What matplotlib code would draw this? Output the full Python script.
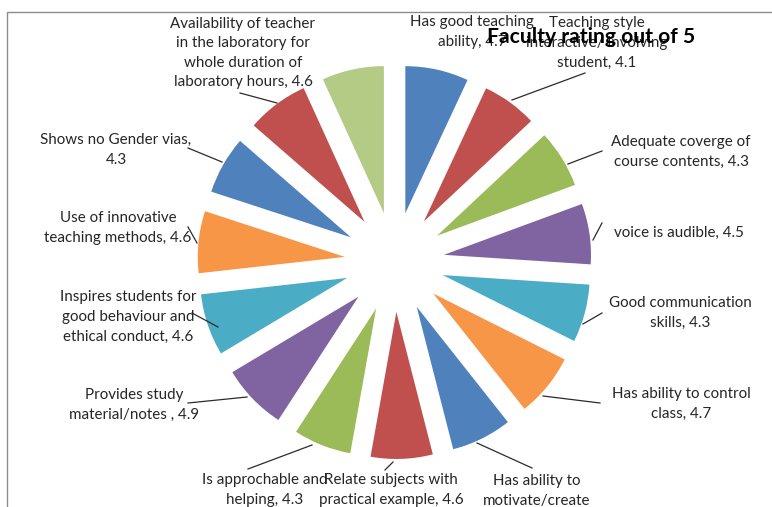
import textwrap
import numpy as np
import matplotlib
matplotlib.use("Agg")
import matplotlib.pyplot as plt
from matplotlib.patches import Rectangle

# data (clockwise from 12 o'clock)
categories = [
    "Has good teaching ability",
    "Teaching style interactive/ involving student",
    "Adequate coverge of course contents",
    "voice is audible",
    "Good communication skills",
    "Has ability to control class",
    "Has ability to motivate/create interest",
    "Relate subjects with practical example",
    "Is approchable and helping",
    "Provides study material/notes ",
    "Inspires students for good behaviour and ethical conduct",
    "Use of innovative teaching methods",
    "Shows no Gender vias",
    "Availability of teacher in the laboratory for whole duration of laboratory hours",
    "",
]
ratings = [4.7, 4.1, 4.3, 4.5, 4.3, 4.7, 4.5, 4.6, 4.3, 4.9, 4.6, 4.6, 4.3, 4.6, 4.6]
title = "Faculty rating out of 5"

colors = ["#4F81BD", "#C0504D", "#9BBB59", "#8064A2", "#4BACC6", "#F79646",
          "#4F81BD", "#C0504D", "#9BBB59", "#8064A2", "#4BACC6", "#F79646",
          "#4F81BD", "#C0504D", "#B3CB84"]

# label layout (pixels, y from top)
wrap_w = [18, 22, 20, 22, 20, 22, 15, 22, 18, 20, 21, 21, 21, 23, 0]
label_xy = [(472, 32), (597, 43), (681, 152), (679, 233), (680, 313),
            (681, 404), (537, 501), (391, 490), (265, 490), (134, 405),
            (128, 317), (118, 228), (116, 150), (243, 53), None]
leaders = [None, ((585, 73), (512, 100)), ((602, 151), (568, 164)),
           ((602, 223), (593, 240)), ((602, 313), (583, 324)),
           ((600, 403), (543, 396)), ((532, 468), (477, 443)),
           ((393, 462), (385, 470)), ((248, 469), (312, 445)),
           ((188, 403), (247, 397)), ((192, 313), (218, 327)),
           ((188, 227), (197, 243)), ((188, 148), (222, 162)),
           ((240, 93), (277, 103)), None]

W, H = 772, 507
fig = plt.figure(figsize=(W / 100, H / 100), dpi=100)
fig.patch.set_facecolor("white")

# pie: centre (394.5, 262) px, radius 147 px, explosion 50 px
cx, cy, R, half = 394.5, 262, 147, 200
lim = half / R
ax = fig.add_axes([(cx - half) / W, (H - cy - half) / H, 2 * half / W, 2 * half / H])
ax.pie(ratings, colors=colors, startangle=90, counterclock=False,
       explode=[50 / R] * len(ratings), radius=1,
       wedgeprops=dict(linewidth=0))
ax.set_xlim(-lim, lim)
ax.set_ylim(-lim, lim)
ax.set_axis_off()

# overlay for frame, labels and leader lines
ov = fig.add_axes([0, 0, 1, 1], zorder=5)
ov.set_xlim(0, W)
ov.set_ylim(H, 0)
ov.set_axis_off()
ov.add_patch(Rectangle((7, 12), W + 20, H + 20, fill=False,
                       edgecolor="#8c8c8c", linewidth=1.0, clip_on=False))

for cat, val, w, xy, ld in zip(categories, ratings, wrap_w, label_xy, leaders):
    if xy is None:
        continue
    txt = "\n".join(textwrap.wrap(f"{cat}, {val}", w))
    ov.text(xy[0], xy[1], txt, ha="center", va="center", fontsize=10.9,
            family="Lato", color="#262626", linespacing=1.5)
    if ld is not None:
        ov.plot([ld[0][0], ld[1][0]], [ld[0][1], ld[1][1]], color="#2b2b2b", lw=0.9)

ov.text(591, 37, title, ha="center", va="center", fontsize=15.2,
        fontweight="bold", family="Lato", color="black", zorder=10)

fig.savefig("out.png", dpi=100)
